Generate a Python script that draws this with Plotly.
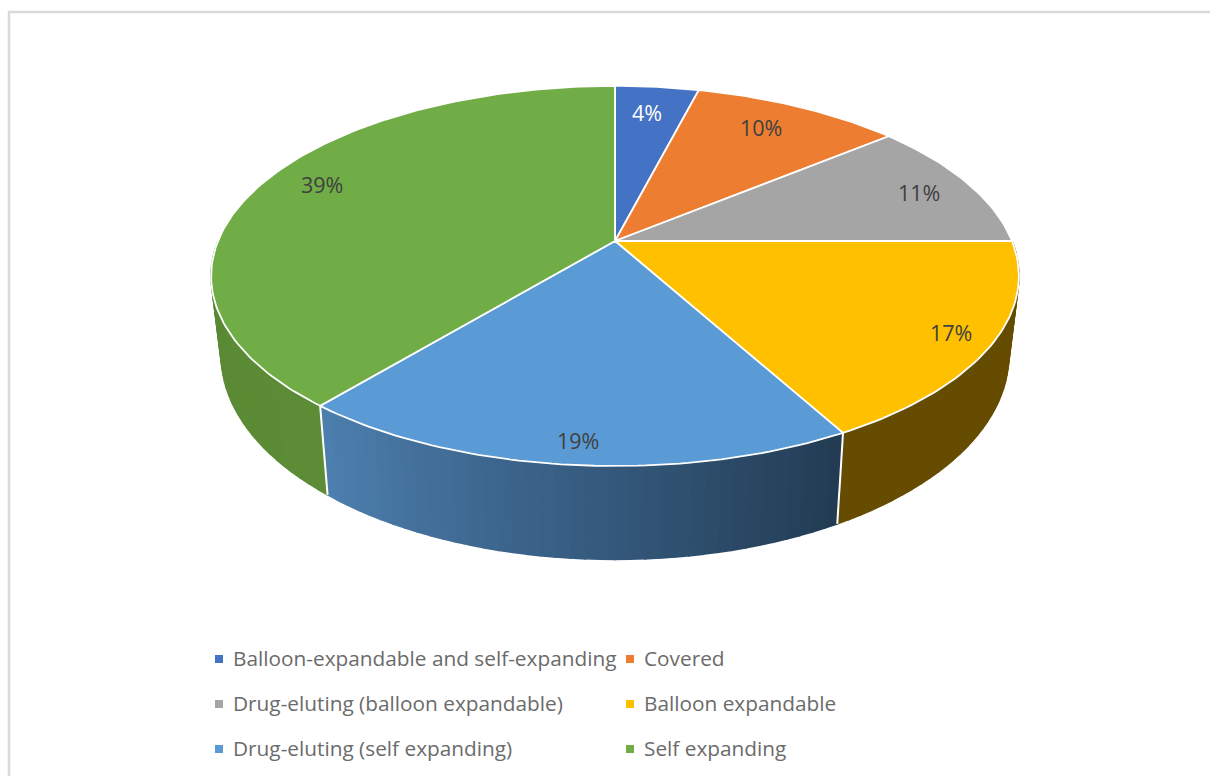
import math
import plotly.graph_objects as go

# Chart data
categories = [
    "Balloon-expandable and self-expanding",
    "Covered",
    "Drug-eluting (balloon expandable)",
    "Balloon expandable",
    "Drug-eluting (self expanding)",
    "Self expanding",
]
shares = [4, 10, 11, 17, 19, 39]
slice_colors = ["#4472C4", "#ED7D31", "#A5A5A5", "#FFC000", "#5B9BD5", "#70AD47"]
label_colors = ["#FFFFFF", "#404040", "#404040", "#404040", "#404040", "#404040"]

# Side-wall shading as (fraction across the slice, colour) stops, clockwise along the rim
wall_shades = {
    3: [(0, "#654C00"), (1, "#654C00")],
    4: [(0, "#223B52"), (0.5, "#375D82"), (1, "#4D80AF")],
    5: [(0, "#5C8C35"), (1, "#5A8933")],
}

# Perspective of the disc, in page pixels
CX = 615
TILT = 0.184
TOP = dict(y0=241, ax=397, ay=183.6)
BOTTOM = dict(y0=318, ax=387, ay=197)
LABEL_RADII = [0.80, 0.80, 0.86, 0.90, 0.90, 0.83]
LABEL_NUDGES = [(-3, -1), (-5, -3), (-1, 2), (0, 0), (3, 3), (2, -7)]
FONT = "Open Sans"


def project(disc, radius, turn):
    """Map a polar position on a disc (turn measured clockwise from 12 o'clock) to the page."""
    angle = 2 * math.pi * turn
    x = radius * math.sin(angle)
    y = -radius * math.cos(angle)
    w = 1 - TILT * y
    return CX + disc["ax"] * x / w, disc["y0"] + disc["ay"] * y / w


def hex_to_rgb(value):
    return tuple(int(value[i:i + 2], 16) for i in (1, 3, 5))


def shade_at(stops, f):
    for (f0, c0), (f1, c1) in zip(stops, stops[1:]):
        if f <= f1:
            u = (f - f0) / (f1 - f0)
            a, b = hex_to_rgb(c0), hex_to_rgb(c1)
            return "rgb({},{},{})".format(*[round(p + (q - p) * u) for p, q in zip(a, b)])
    return stops[-1][1]


total = sum(shares)
edges = [0]
for share in shares:
    edges.append(edges[-1] + share / total)

fig = go.Figure()


def polygon(xs, ys, fill, line_color, line_width, name):
    fig.add_trace(go.Scatter(
        x=xs, y=ys, mode="lines", fill="toself", fillcolor=fill,
        line=dict(color=line_color, width=line_width),
        name=name, showlegend=False, hoverinfo="skip",
    ))


# Side wall, built from thin strips so the shading can vary along the rim
for i, stops in wall_shades.items():
    start, end = edges[i], edges[i + 1]
    if i == 3:
        start = 0.25
    if i == 5:
        end = 0.75
    count = max(2, round((end - start) * 200))
    for k in range(count):
        t0 = start + (end - start) * k / count
        t1 = start + (end - start) * (k + 1) / count
        a, b = project(TOP, 1, t0), project(TOP, 1, t1)
        c, d = project(BOTTOM, 1, t1), project(BOTTOM, 1, t0)
        color = shade_at(stops, (k + 0.5) / count)
        polygon([a[0], b[0], c[0], d[0], a[0]], [a[1], b[1], c[1], d[1], a[1]],
                color, color, 1.6, categories[i])

# White seams between the wall sections
for edge in (edges[4], edges[5]):
    a, d = project(TOP, 1, edge), project(BOTTOM, 1, edge)
    fig.add_trace(go.Scatter(x=[a[0], d[0]], y=[a[1], d[1]], mode="lines",
                             line=dict(color="#FFFFFF", width=2),
                             showlegend=False, hoverinfo="skip"))

# Top face of each slice
for i, category in enumerate(categories):
    start, end = edges[i], edges[i + 1]
    steps = max(2, round((end - start) * 360))
    rim = [project(TOP, 1, start + (end - start) * k / steps) for k in range(steps + 1)]
    hub = project(TOP, 0, 0)
    xs = [hub[0]] + [p[0] for p in rim] + [hub[0]]
    ys = [hub[1]] + [p[1] for p in rim] + [hub[1]]
    polygon(xs, ys, slice_colors[i], "#FFFFFF", 1.8, category)

# Percentage labels inside the slices
annotations = []
for i, share in enumerate(shares):
    x, y = project(TOP, LABEL_RADII[i], (edges[i] + edges[i + 1]) / 2)
    nudge_x, nudge_y = LABEL_NUDGES[i]
    annotations.append(dict(x=x + nudge_x, y=y + nudge_y, text=f"{share}%", showarrow=False,
                            font=dict(family=FONT, size=21.5, color=label_colors[i]),
                            xanchor="center", yanchor="middle"))

# Two-column legend drawn below the pie
LEGEND_COLUMNS = [219, 630]
LEGEND_ROWS = [659, 704, 749]
for i, category in enumerate(categories):
    column = LEGEND_COLUMNS[i % 2]
    row = LEGEND_ROWS[i // 2]
    fig.add_trace(go.Scatter(x=[column], y=[row], mode="markers",
                             marker=dict(symbol="square", size=8, color=slice_colors[i]),
                             showlegend=False, hoverinfo="skip"))
    annotations.append(dict(x=column + 12, y=row - 1, text=category, showarrow=False,
                            font=dict(family=FONT, size=20.8, color="#6B6B6B"),
                            xanchor="left", yanchor="middle"))

fig.update_layout(
    width=1210, height=776,
    margin=dict(l=0, r=0, t=0, b=0),
    paper_bgcolor="#FFFFFF", plot_bgcolor="#FFFFFF",
    xaxis=dict(range=[0, 1210], visible=False, fixedrange=True),
    yaxis=dict(range=[776, 0], visible=False, fixedrange=True),
    annotations=annotations,
    shapes=[dict(type="rect", xref="x", yref="y", x0=9, y0=12, x1=1400, y1=1000,
                 line=dict(color="#D9D9D9", width=2.5), layer="below")],
    showlegend=False,
)

fig.write_html("out.html")
